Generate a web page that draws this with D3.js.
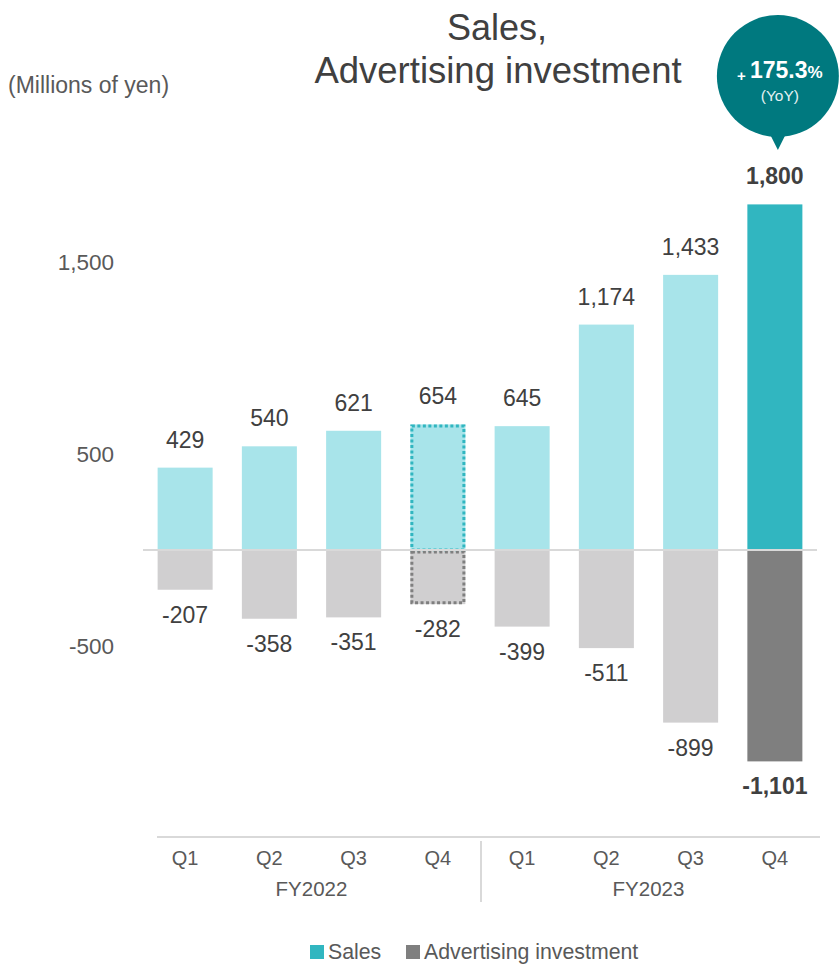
<!DOCTYPE html>
<html>
<head>
<meta charset="utf-8">
<script src="https://cdn.jsdelivr.net/npm/d3@7"></script>
<style>
  html, body { margin: 0; padding: 0; background: #fff; }
  svg { display: block; font-family: "Liberation Sans", Arial, sans-serif; }
</style>
</head>
<body>
<svg id="chart" width="839" height="965"></svg>
<script>
// Quarterly figures, millions of yen
const quarters = ["Q1", "Q2", "Q3", "Q4", "Q1", "Q2", "Q3", "Q4"];
const fiscalYears = ["FY2022", "FY2023"];
const sales = [429, 540, 621, 654, 645, 1174, 1433, 1800];
const adInvestment = [-207, -358, -351, -282, -399, -511, -899, -1101];
const yTickValues = [1500, 500, -500];
const yTickLabels = ["1,500", "500", "-500"];
const yoyGrowth = "175.3";

const svg = d3.select("#chart");
const fmt = d3.formatLocale({ decimal: ".", thousands: ",", grouping: [3], currency: ["", ""], minus: "-" }).format(",");

const idx = d3.range(quarters.length);
const x = d3.scaleBand().domain(idx).range([143, 817]).paddingInner(0.347).paddingOuter(0.1735);
const y = d3.scaleLinear().domain([-500, 1500]).range([646, 262]);

const lastIdx = quarters.length - 1;
const prevYearQ4 = 3;

const col = {
  salesLight: "#a8e4ea", salesDark: "#31b6c0",
  adLight: "#d0cfd0", adDark: "#7f7f7f",
  text: "#404040", axisText: "#595959", grid: "#d9d9d9", bubble: "#00797f"
};

// Title
svg.append("text").attr("x", 497).attr("y", 40).attr("text-anchor", "middle")
  .attr("font-size", 36).attr("fill", col.text).text("Sales,");
svg.append("text").attr("x", 498).attr("y", 83).attr("text-anchor", "middle")
  .attr("font-size", 36.5).attr("fill", col.text).text("Advertising investment");

// Unit label
svg.append("text").attr("x", 8).attr("y", 93).attr("font-size", 23)
  .attr("fill", col.axisText).text("(Millions of yen)");

// Y tick labels (no axis line)
const yAxis = d3.axisLeft(y).tickValues(yTickValues)
  .tickFormat((d, i) => yTickLabels[i]).tickSize(0).tickPadding(0);
const yG = svg.append("g").attr("transform", "translate(114,0)").call(yAxis);
yG.select(".domain").remove();
yG.selectAll("text").attr("font-size", 22.5).attr("fill", col.axisText)
  .attr("font-family", "'Liberation Sans', Arial, sans-serif");

// Sales bars
svg.append("g").selectAll("rect").data(sales).join("rect")
  .attr("x", (d, i) => x(i)).attr("width", x.bandwidth())
  .attr("y", d => y(d)).attr("height", d => y(0) - y(d))
  .attr("fill", (d, i) => i === lastIdx ? col.salesDark : col.salesLight);

// Advertising bars
svg.append("g").selectAll("rect").data(adInvestment).join("rect")
  .attr("x", (d, i) => x(i)).attr("width", x.bandwidth())
  .attr("y", y(0)).attr("height", d => y(d) - y(0))
  .attr("fill", (d, i) => i === lastIdx ? col.adDark : col.adLight);

// Dotted outline on prior-year Q4 for comparison
svg.append("rect")
  .attr("x", x(prevYearQ4) + 1.5).attr("width", x.bandwidth() - 3)
  .attr("y", y(sales[prevYearQ4]) + 1.5).attr("height", y(0) - y(sales[prevYearQ4]) - 1.5)
  .attr("fill", "none").attr("stroke", col.salesDark).attr("stroke-width", 3)
  .attr("stroke-dasharray", "3,2.5");
svg.append("rect")
  .attr("x", x(prevYearQ4) + 1.5).attr("width", x.bandwidth() - 3)
  .attr("y", y(0) + 2).attr("height", y(adInvestment[prevYearQ4]) - y(0) - 3.5)
  .attr("fill", "none").attr("stroke", col.adDark).attr("stroke-width", 3)
  .attr("stroke-dasharray", "3,2.5");

// Zero line
svg.append("line").attr("x1", 143).attr("x2", 817).attr("y1", y(0)).attr("y2", y(0))
  .attr("stroke", col.grid).attr("stroke-width", 2);

// Value labels
const cx = i => x(i) + x.bandwidth() / 2;
svg.append("g").selectAll("text").data(sales).join("text")
  .attr("x", (d, i) => cx(i)).attr("y", d => y(d) - 20)
  .attr("text-anchor", "middle").attr("font-size", 23)
  .attr("font-weight", (d, i) => i === lastIdx ? "bold" : "normal")
  .attr("fill", col.text).text(d => fmt(d));
svg.append("g").selectAll("text").data(adInvestment).join("text")
  .attr("x", (d, i) => cx(i)).attr("y", d => y(d) + 33)
  .attr("text-anchor", "middle").attr("font-size", 23)
  .attr("font-weight", (d, i) => i === lastIdx ? "bold" : "normal")
  .attr("fill", col.text).text(d => fmt(d));

// Category axis
svg.append("line").attr("x1", 157).attr("x2", 820).attr("y1", 837).attr("y2", 837)
  .attr("stroke", col.grid).attr("stroke-width", 2);
svg.append("line").attr("x1", 481).attr("x2", 481).attr("y1", 841).attr("y2", 902)
  .attr("stroke", col.grid).attr("stroke-width", 2);
svg.append("g").selectAll("text").data(quarters).join("text")
  .attr("x", (d, i) => cx(i)).attr("y", 865).attr("text-anchor", "middle")
  .attr("font-size", 20).attr("fill", col.axisText).text(d => d);
svg.append("g").selectAll("text").data(fiscalYears).join("text")
  .attr("x", (d, i) => (cx(i * 4) + cx(i * 4 + 3)) / 2).attr("y", 896)
  .attr("text-anchor", "middle").attr("font-size", 20.5).attr("fill", col.axisText).text(d => d);

// Legend
const legend = [
  { label: "Sales", color: col.salesDark, x: 310 },
  { label: "Advertising investment", color: col.adDark, x: 406 }
];
const lg = svg.append("g").selectAll("g").data(legend).join("g");
lg.append("rect").attr("x", d => d.x).attr("y", 945).attr("width", 14).attr("height", 14)
  .attr("fill", d => d.color);
lg.append("text").attr("x", d => d.x + 18).attr("y", 959).attr("font-size", 21.3)
  .attr("fill", col.axisText).text(d => d.label);

// YoY callout bubble
const bx = cx(lastIdx) + 3, by = 76;
svg.append("path")
  .attr("d", `M${bx - 11},${by + 52} L${bx},${by + 74} L${bx + 11},${by + 52} Z`)
  .attr("fill", col.bubble);
svg.append("circle").attr("cx", bx).attr("cy", by).attr("r", 61).attr("fill", col.bubble);
const t1 = svg.append("text").attr("x", bx + 2).attr("y", 78).attr("text-anchor", "middle")
  .attr("fill", "#fff").attr("font-weight", "bold");
t1.append("tspan").attr("font-size", 15).attr("dy", 3).text("+ ");
t1.append("tspan").attr("font-size", 23).attr("dy", -3).text(yoyGrowth);
t1.append("tspan").attr("font-size", 17).text("%");
svg.append("text").attr("x", bx + 2).attr("y", 101).attr("text-anchor", "middle")
  .attr("font-size", 15.5).attr("fill", "#e6f2f3").text("(YoY)");
</script>
</body>
</html>
